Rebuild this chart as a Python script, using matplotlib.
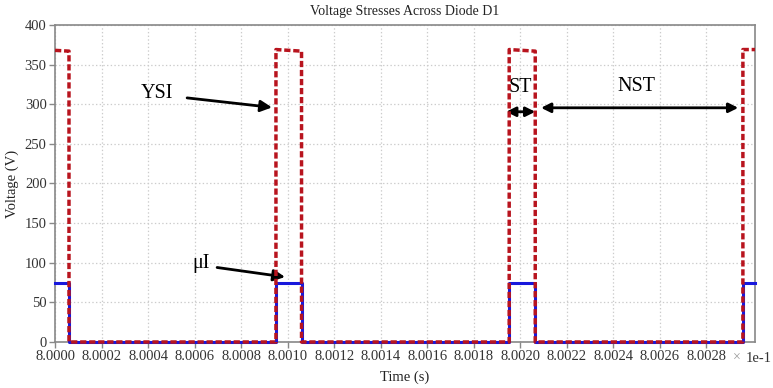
import matplotlib
matplotlib.use("Agg")
import matplotlib.pyplot as plt

plt.rcParams['font.family'] = ['Liberation Serif', 'DejaVu Serif']
plt.rcParams['lines.scale_dashes'] = False

# switching instants (x 1e-1 s) with the level on each side of every edge
t = [8.0, 8.00006, 8.00006, 8.00095, 8.00095, 8.00106, 8.00106,
     8.001953, 8.001953, 8.002065, 8.002065, 8.002958, 8.002958, 8.00301]
v_d1 = [368, 367, 0, 0, 369, 367, 0, 0, 369, 367, 0, 0, 369, 369]
v_ui = [75, 75, 0, 0, 75, 75, 0, 0, 75, 75, 0, 0, 75, 75]

x_ticks = [8.0000, 8.0002, 8.0004, 8.0006, 8.0008, 8.0010, 8.0012, 8.0014,
           8.0016, 8.0018, 8.0020, 8.0022, 8.0024, 8.0026, 8.0028]
x_labels = ['8.0000', '8.0002', '8.0004', '8.0006', '8.0008', '8.0010', '8.0012',
            '8.0014', '8.0016', '8.0018', '8.0020', '8.0022', '8.0024', '8.0026', '8.0028']
y_ticks = [0, 50, 100, 150, 200, 250, 300, 350, 400]

fig = plt.figure(figsize=(7.73, 3.88), dpi=100)
ax = fig.add_axes([0.0712, 0.1186, 0.9055, 0.817])

ax.plot(t, v_ui, color='#1818dc', lw=2.2, clip_on=False, zorder=3)
ax.plot(t, v_d1, color='#b8141e', lw=2.5, dashes=(4.5, 2.0), clip_on=False, zorder=4)

ax.set_xlim(8.0, 8.00301)
ax.set_ylim(0, 400)
ax.set_xticks(x_ticks)
ax.set_xticklabels(x_labels)
ax.set_yticks(y_ticks)
ax.tick_params(direction='out', length=4, width=1, color='#888888',
               labelsize=10.5, labelcolor='#333333', pad=2)
ax.grid(True, linestyle=':', color='#cccccc', lw=0.9)
for s in ax.spines.values():
    s.set_color('#888888')
    s.set_linewidth(1.2)

ax.set_title('Voltage Stresses Across Diode D1', fontsize=10, color='#222222', pad=7)
ax.set_xlabel('Time (s)', fontsize=10.5, color='#222222', labelpad=5)
ax.set_ylabel('Voltage (V)', fontsize=10.5, color='#222222', labelpad=4)
fig.text(0.953, 0.077, '\u00d7', fontsize=10, color='#999999', ha='center', va='center')
fig.text(0.9645, 0.077, '1e-1', fontsize=10.5, color='#333333', ha='left', va='center')

# interval labels and pointers
arrow = dict(arrowstyle='-|>', color='black', lw=2.0, mutation_scale=17, shrinkA=0, shrinkB=0)
darrow = dict(arrowstyle='<|-|>', color='black', lw=2.0, mutation_scale=14, shrinkA=0, shrinkB=0)

ax.text(8.000439, 314, 'YSI', fontsize=14.5, ha='center', va='center')
ax.annotate('', xy=(8.000933, 296), xytext=(8.000568, 308), arrowprops=arrow)
ax.text(8.000628, 99, '\u03bcI', fontsize=14.5, ha='center', va='center')
ax.annotate('', xy=(8.000989, 82), xytext=(8.000697, 94), arrowprops=arrow)
ax.text(8.002, 321, 'ST', fontsize=14.5, ha='center', va='center')
ax.annotate('', xy=(8.002065, 290.5), xytext=(8.00194, 290.5), arrowprops=darrow)
ax.text(8.0025, 323, 'NST', fontsize=14.5, ha='center', va='center')
ax.annotate('', xy=(8.002938, 295.5), xytext=(8.00209, 295.5), arrowprops=darrow)

fig.savefig('out.png', dpi=100)
